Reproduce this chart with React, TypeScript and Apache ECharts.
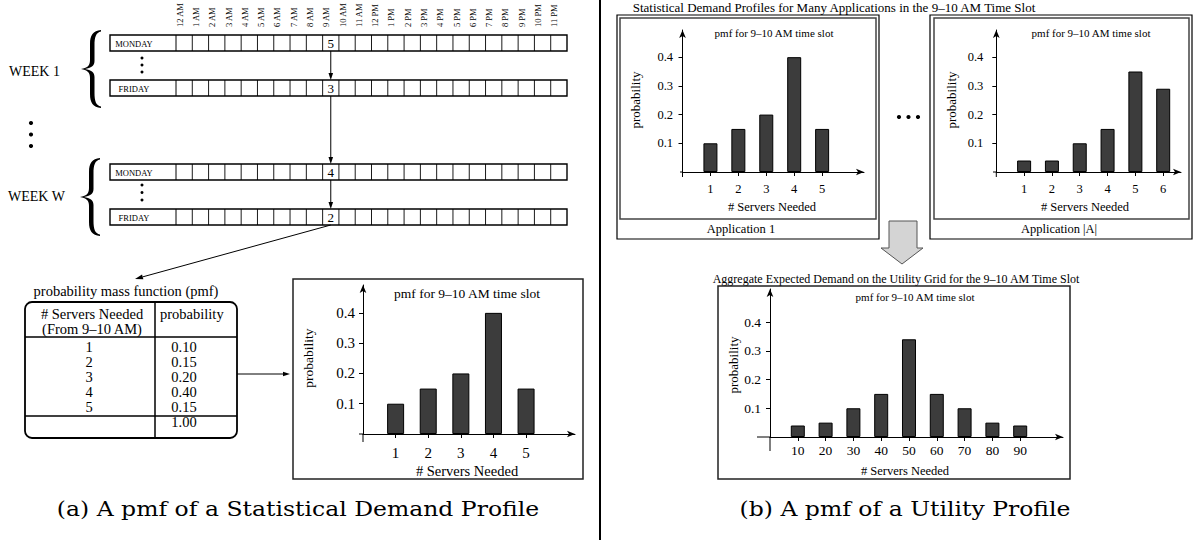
import React, { useEffect, useRef } from "react";
import * as echarts from "echarts";

// ---------------- data ----------------
const hourLabels = [
  "12 AM", "1 AM", "2 AM", "3 AM", "4 AM", "5 AM", "6 AM", "7 AM", "8 AM", "9 AM", "10 AM", "11 AM",
  "12 PM", "1 PM", "2 PM", "3 PM", "4 PM", "5 PM", "6 PM", "7 PM", "8 PM", "9 PM", "10 PM", "11 PM",
];
const dayRows = ["MONDAY", "FRIDAY", "MONDAY", "FRIDAY"];
const slotValues = [5, 3, 4, 2];
const weekLabels = ["WEEK 1", "WEEK W"];
const slotHourIndex = 9; // 9 AM column

const pmfServers = [1, 2, 3, 4, 5];
const pmfProbs = [0.1, 0.15, 0.2, 0.4, 0.15];
const pmfTotal = "1.00";

const app1Servers = [1, 2, 3, 4, 5];
const app1Probs = [0.1, 0.15, 0.2, 0.4, 0.15];

const appAServers = [1, 2, 3, 4, 5, 6];
const appAProbs = [0.04, 0.04, 0.1, 0.15, 0.35, 0.29];

const aggServers = [10, 20, 30, 40, 50, 60, 70, 80, 90];
const aggProbs = [0.04, 0.05, 0.1, 0.15, 0.34, 0.15, 0.1, 0.05, 0.04];

const yTicks = [0.1, 0.2, 0.3, 0.4];

const pmfTitle = "pmf for 9\u201310 AM time slot";
const xName = "# Servers Needed";
const yName = "probability";

// ---------------- styling / layout ----------------
const SERIF = "Liberation Serif";
const CAPTION_FONT = "DejaVu Serif";
const BAR_FILL = "#3c3c3c";

// grids: left, top, width, height (axes cross at the grid's bottom-left corner)
const GRIDS = [
  { left: 363, top: 285, width: 212, height: 149, xMax: 6.5, yMax: 0.492, extX: 4, extY: 8 },
  { left: 682.5, top: 30, width: 181.5, height: 142, xMax: 6.5, yMax: 0.4946, extX: 2.5, extY: 5 },
  { left: 996.3, top: 30, width: 184.7, height: 142, xMax: 6.64, yMax: 0.4946, extX: 3.3, extY: 5 },
  { left: 770, top: 289, width: 293, height: 148, xMax: 105.4, yMax: 0.515, extX: 13, extY: 14 },
];

const BRACE_D =
  "M20,0 C12,1 9,5 9,14 L9,30 C9,36 6,38 0,39 C6,40 9,42 9,48 L9,64 C9,73 12,77 20,78 L20,76.5 C15,75.5 13.5,71 13.5,63 L13.5,47 C13.5,42 10,40 4,39 C10,38 13.5,36 13.5,31 L13.5,15 C13.5,7 15,2.5 20,1.5 Z";

let braceRegistered = false;
function registerBrace() {
  if (braceRegistered) return;
  echarts.graphic.registerShape("brace", echarts.graphic.extendPath(BRACE_D, {}) as any);
  braceRegistered = true;
}

function txt(x: number, y: number, text: string, size: number, extra: any = {}) {
  const { align = "center", vAlign = "middle", rotation = 0, font = SERIF, scaleX = 1 } = extra;
  return {
    type: "text",
    x,
    y,
    rotation,
    scaleX,
    silent: true,
    style: { text, fontSize: size, fontFamily: font, fill: "#000", align, verticalAlign: vAlign },
  };
}
function line(x1: number, y1: number, x2: number, y2: number, w = 1, color = "#000") {
  return { type: "line", silent: true, shape: { x1, y1, x2, y2 }, style: { stroke: color, lineWidth: w } };
}
function rect(x: number, y: number, w: number, h: number, lw = 1, stroke = "#000", r = 0, fill = "none") {
  return {
    type: "rect",
    silent: true,
    shape: { x, y, width: w, height: h, r },
    style: { fill, stroke, lineWidth: lw },
  };
}
function dot(x: number, y: number, r: number) {
  return { type: "circle", silent: true, shape: { cx: x, cy: y, r }, style: { fill: "#000" } };
}
function arrow(x1: number, y1: number, x2: number, y2: number, len = 7, half = 2.3) {
  const dx = x2 - x1;
  const dy = y2 - y1;
  const L = Math.sqrt(dx * dx + dy * dy);
  const ux = dx / L;
  const uy = dy / L;
  const bx = x2 - ux * len;
  const by = y2 - uy * len;
  return [
    line(x1, y1, bx, by, 1),
    {
      type: "polygon",
      silent: true,
      shape: { points: [[x2, y2], [bx - uy * half, by + ux * half], [bx + uy * half, by - ux * half]] },
      style: { fill: "#000" },
    },
  ];
}

function buildGraphics() {
  const g: any[] = [];
  // vertical divider
  g.push(line(600, 0, 600, 540, 2));

  // axis stubs crossing past the origin
  GRIDS.forEach((gr) => {
    const ox = gr.left;
    const oy = gr.top + gr.height;
    g.push(line(ox, oy, ox, oy + gr.extY, 1));
    g.push(line(ox - gr.extX, oy, ox, oy, 1));
  });

  // ---------- week grid ----------
  const gx = 110;
  const gw = 457;
  const labelW = 66;
  const rowH = 16;
  const cellW = (gw - labelW) / hourLabels.length;
  const rowTops = [35, 80, 164, 209];
  hourLabels.forEach((h, i) => {
    g.push(txt(gx + labelW + (i + 0.5) * cellW - 4.5, 27, h, 8.5, { rotation: Math.PI / 2, align: "left" }));
  });
  const slotX = gx + labelW + (slotHourIndex + 0.5) * cellW;
  rowTops.forEach((top, r) => {
    g.push(rect(gx, top, gw, rowH, 1.4));
    g.push(line(gx + labelW, top, gx + labelW, top + rowH, 1));
    for (let k = 1; k < hourLabels.length; k++) {
      const xx = gx + labelW + k * cellW;
      g.push(line(xx, top, xx, top + rowH, 0.9));
    }
    g.push(txt(134, top + rowH / 2 + 0.5, dayRows[r], 8.5));
    g.push(txt(slotX, top + rowH / 2 + 0.5, String(slotValues[r]), 13));
  });
  // arrows down the 9 AM column
  g.push(...arrow(slotX, rowTops[0] + rowH, slotX, rowTops[1]));
  g.push(...arrow(slotX, rowTops[1] + rowH, slotX, rowTops[2]));
  g.push(...arrow(slotX, rowTops[2] + rowH, slotX, rowTops[3]));
  g.push(...arrow(slotX, rowTops[3] + rowH, 135, 279, 8, 2.5));
  // braces + week labels
  g.push({ type: "brace", x: 81, y: 30, silent: true, style: { fill: "#000" } });
  g.push({ type: "brace", x: 80, y: 158, silent: true, style: { fill: "#000" } });
  g.push(txt(9, 71, weekLabels[0], 14, { align: "left" }));
  g.push(txt(8, 196, weekLabels[1], 14, { align: "left" }));
  // vertical dots
  [58, 65, 72].forEach((y) => g.push(dot(142, y, 1.5)));
  [185, 192.5, 200].forEach((y) => g.push(dot(142, y, 1.5)));
  [123, 134.5, 146].forEach((y) => g.push(dot(31, y, 2.1)));

  // ---------- pmf table ----------
  g.push(txt(126, 291, "probability mass function (pmf)", 14.5));
  g.push(rect(25, 302, 212, 136, 1.8, "#000", 7));
  g.push(line(155, 302, 155, 438, 1.5));
  g.push(line(25, 337, 237, 337, 1.5));
  g.push(line(25, 416, 237, 416, 1.5));
  g.push(txt(92, 314, "# Servers Needed", 14.5));
  g.push(txt(92, 329, "(From 9\u201310 AM)", 14.5));
  g.push(txt(160, 314, "probability", 14.5, { align: "left" }));
  pmfServers.forEach((s, i) => {
    g.push(txt(89, 347 + i * 15, String(s), 14.5));
    g.push(txt(184, 347 + i * 15, pmfProbs[i].toFixed(2), 14.5));
  });
  g.push(txt(184, 422, pmfTotal, 14.5));
  g.push(...arrow(237, 374, 290, 374, 7, 2.3));

  // ---------- chart A frame + texts ----------
  g.push(rect(293, 279, 290, 200, 1.5, "#222"));
  g.push(txt(467, 293, pmfTitle, 13.5));
  g.push(txt(467, 471, xName, 14.5));
  g.push(txt(308, 358, yName, 13.5, { rotation: Math.PI / 2 }));

  // ---------- top right ----------
  g.push(txt(834, 7, "Statistical Demand Profiles for Many Applications in the 9\u201310 AM Time Slot", 13));
  // app 1
  g.push(rect(617, 15, 262, 224, 1.2));
  g.push(rect(620, 18, 256, 201, 1.5, "#444"));
  g.push(txt(774, 33, pmfTitle, 11));
  g.push(txt(772, 207, xName, 12.5));
  g.push(txt(635, 100, yName, 13, { rotation: Math.PI / 2 }));
  g.push(txt(741, 229, "Application 1", 12.5));
  // app |A|
  g.push(rect(930, 15, 262, 224, 1.2));
  g.push(rect(934, 18, 255, 201, 1.5, "#444"));
  g.push(txt(1091, 33, pmfTitle, 11));
  g.push(txt(1085, 207, xName, 12.5));
  g.push(txt(951, 100, yName, 13, { rotation: Math.PI / 2 }));
  g.push(txt(1059, 229, "Application |A|", 12.5));
  // ellipsis dots
  [899, 908.5, 918].forEach((x) => g.push(dot(x, 117, 2.1)));
  // block arrow
  g.push({
    type: "polygon",
    silent: true,
    shape: {
      points: [[889, 221], [917, 221], [917, 248], [923, 248], [902, 264], [881, 248], [889, 248]],
    },
    style: { fill: "#d4d4d4", stroke: "#555", lineWidth: 1 },
  });

  // ---------- aggregate chart ----------
  g.push(txt(896, 279, "Aggregate Expected Demand on the Utility Grid for the 9\u201310 AM Time Slot", 12));
  g.push(rect(718, 286, 352, 193, 1.5, "#222"));
  g.push(txt(915, 297, pmfTitle, 11));
  g.push(txt(905, 471, xName, 12.5));
  g.push(txt(733, 365, yName, 13, { rotation: Math.PI / 2 }));

  // ---------- captions ----------
  g.push(txt(298, 519, "(a) A pmf of a Statistical Demand Profile", 21, { font: CAPTION_FONT, scaleX: 1.12, vAlign: "bottom" }));
  g.push(txt(905, 519, "(b) A pmf of a Utility Profile", 21, { font: CAPTION_FONT, scaleX: 1.12, vAlign: "bottom" }));
  return g;
}

function xAxisCfg(gridIndex: number, max: number, ticks: number[], margin: number, fontSize: number) {
  return {
    type: "value",
    gridIndex,
    min: 0,
    max,
    axisLine: {
      show: true,
      onZero: false,
      symbol: ["none", "arrow"],
      symbolSize: [5, 8],
      lineStyle: { color: "#000", width: 1 },
    },
    axisTick: { show: true, customValues: ticks, length: 4, inside: false, lineStyle: { color: "#000" } },
    axisLabel: { show: true, customValues: ticks, margin, fontSize, fontFamily: SERIF, color: "#000" },
    splitLine: { show: false },
  };
}
function yAxisCfg(gridIndex: number, max: number, margin: number, fontSize: number) {
  return {
    type: "value",
    gridIndex,
    min: 0,
    max,
    axisLine: {
      show: true,
      onZero: false,
      symbol: ["none", "arrow"],
      symbolSize: [5, 8],
      lineStyle: { color: "#000", width: 1 },
    },
    axisTick: { show: true, customValues: yTicks, length: 4, inside: false, lineStyle: { color: "#000" } },
    axisLabel: { show: true, customValues: yTicks, margin, fontSize, fontFamily: SERIF, color: "#000" },
    splitLine: { show: false },
  };
}
function barSeries(idx: number, xs: number[], ys: number[], width: number) {
  return {
    type: "bar",
    xAxisIndex: idx,
    yAxisIndex: idx,
    barWidth: width,
    data: xs.map((x, i) => [x, ys[i]]),
    itemStyle: { color: BAR_FILL, borderColor: "#000", borderWidth: 1 },
    silent: true,
  };
}

export default function App() {
  const ref = useRef<HTMLDivElement>(null);
  useEffect(() => {
    document.body.style.margin = "0";
    registerBrace();
    const chart = echarts.init(ref.current!, null, { renderer: "svg" });
    chart.setOption({
      animation: false,
      backgroundColor: "#fff",
      grid: GRIDS.map((gr) => ({ left: gr.left, top: gr.top, width: gr.width, height: gr.height, containLabel: false })),
      xAxis: [
        xAxisCfg(0, GRIDS[0].xMax, pmfServers, 11.5, 15),
        xAxisCfg(1, GRIDS[1].xMax, app1Servers, 10.5, 12.5),
        xAxisCfg(2, GRIDS[2].xMax, appAServers, 10.5, 12.5),
        xAxisCfg(3, GRIDS[3].xMax, aggServers, 6, 13.5),
      ],
      yAxis: [
        yAxisCfg(0, GRIDS[0].yMax, 8, 15),
        yAxisCfg(1, GRIDS[1].yMax, 9.5, 12.5),
        yAxisCfg(2, GRIDS[2].yMax, 13, 12.5),
        yAxisCfg(3, GRIDS[3].yMax, 9, 13.5),
      ],
      series: [
        barSeries(0, pmfServers, pmfProbs, 17),
        barSeries(1, app1Servers, app1Probs, 14),
        barSeries(2, appAServers, appAProbs, 14),
        barSeries(3, aggServers, aggProbs, 14),
      ],
      graphic: { elements: buildGraphics() },
    });
    return () => chart.dispose();
  }, []);
  return <div ref={ref} style={{ position: "fixed", left: 0, top: 0, width: 1196, height: 540 }} />;
}
